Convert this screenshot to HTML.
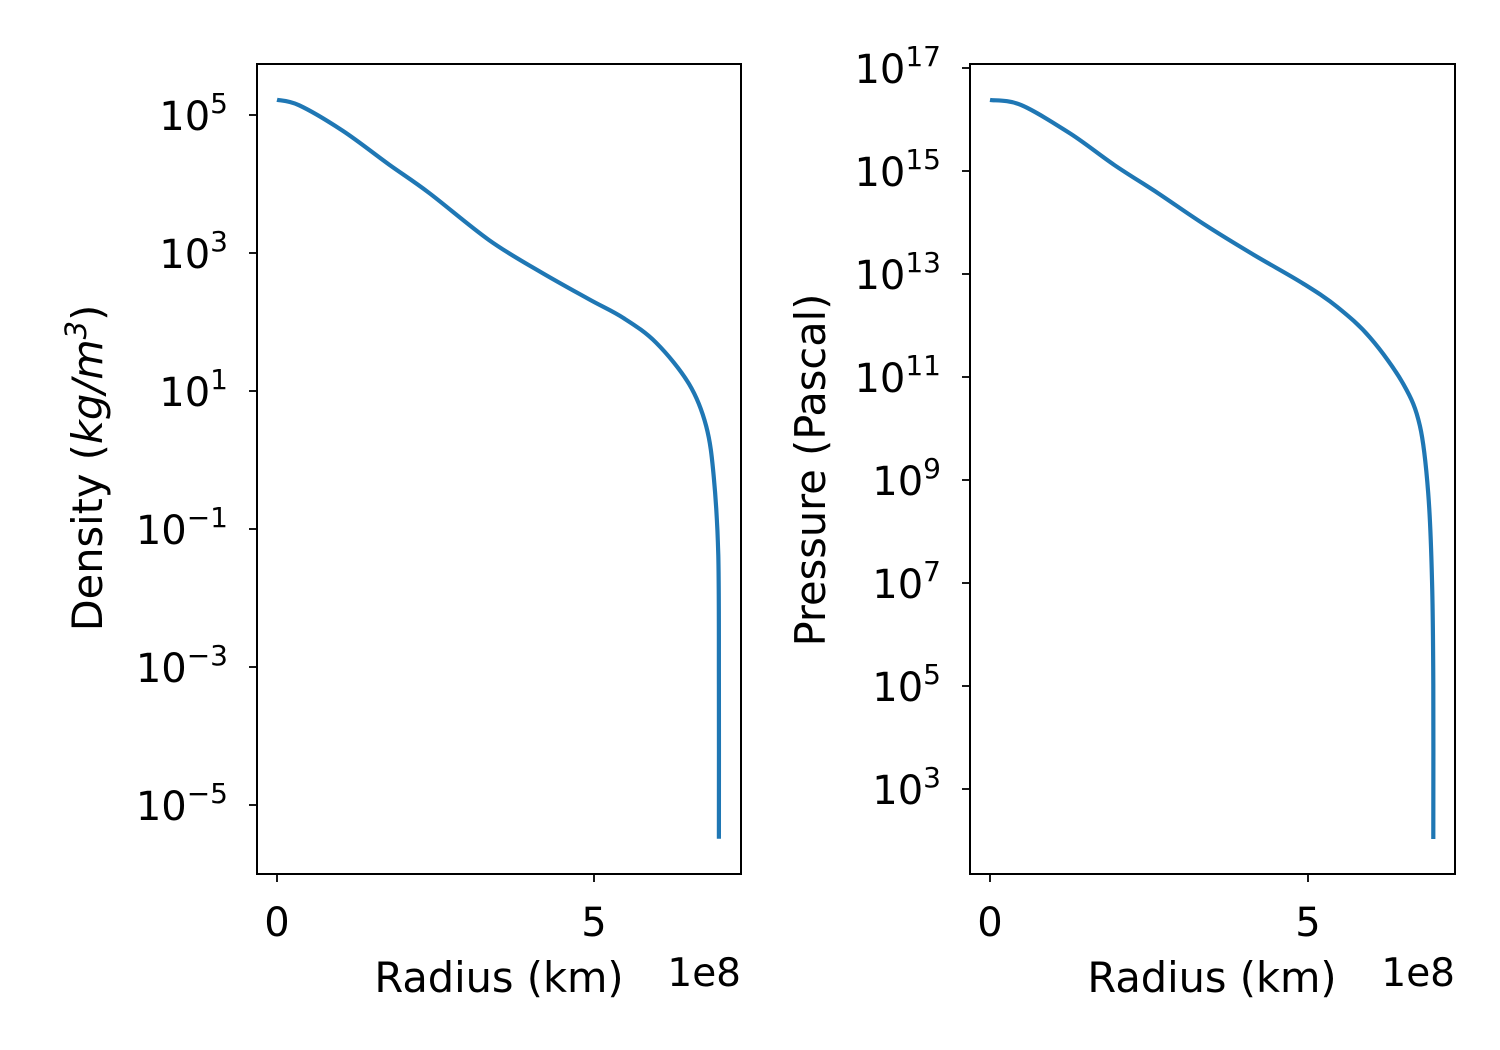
<!DOCTYPE html>
<html><head><meta charset="utf-8"><style>
html,body{margin:0;padding:0;background:#fff;}
svg{display:block;font-family:"DejaVu Sans","Liberation Sans",sans-serif;}
</style></head><body>
<svg id="fig" width="1500" height="1050" viewBox="0 0 1500 1050"></svg>
<script>
const radiusDensity=[0,0.35,1.04,1.77,2.40,3.34,4.13,4.92,5.46,5.98,6.50,6.77,6.89,6.96,6.97,6.97];
const logDensity=[5.22,5.14,4.77,4.28,3.87,3.19,2.74,2.33,2.06,1.70,1.10,0.49,-0.25,-1.38,-3.25,-5.49];
const radiusPressure=[0,0.49,1.27,1.95,2.64,3.36,4.15,4.93,5.46,5.98,6.50,6.76,6.89,6.95,6.97,6.97];
const logPressure=[16.38,16.28,15.72,15.12,14.57,13.97,13.37,12.81,12.36,11.76,10.86,10.05,8.75,7.06,5.03,2.03];
const xTicks=[0,5];
const densityTicks=[5,3,1,-1,-3,-5];
const pressureTicks=[17,15,13,11,9,7,5,3];
const NS="http://www.w3.org/2000/svg";
const svg=document.getElementById('fig');
function el(tag,attrs,parent){const e=document.createElementNS(NS,tag);for(const k in attrs)e.setAttribute(k,attrs[k]);(parent||svg).appendChild(e);return e;}
function smooth(pts){
  let d='M'+pts[0][0].toFixed(1)+' '+pts[0][1].toFixed(1);
  for(let i=0;i<pts.length-1;i++){
    const p0=pts[Math.max(0,i-1)],p1=pts[i],p2=pts[i+1],p3=pts[Math.min(pts.length-1,i+2)];
    const c1=[p1[0]+(p2[0]-p0[0])/6,p1[1]+(p2[1]-p0[1])/6];
    const c2=[p2[0]-(p3[0]-p1[0])/6,p2[1]-(p3[1]-p1[1])/6];
    d+=' C'+c1[0].toFixed(1)+' '+c1[1].toFixed(1)+' '+c2[0].toFixed(1)+' '+c2[1].toFixed(1)+' '+p2[0].toFixed(1)+' '+p2[1].toFixed(1);
  }
  return d;
}
function panel(cfg){
  const g=el('g',{});
  
  
  const X=v=>cfg.x0+v*cfg.xs;
  const Y=v=>cfg.y0-(v-cfg.yref)*cfg.ys;
  const pts=cfg.xs_data.map((r,i)=>[X(r),Y(cfg.ys_data[i])]);
  const p=el('path',{d:smooth(pts),fill:'none',stroke:'#1f77b4','stroke-width':4.2,'stroke-linejoin':'round'},g);
  
  
  const f=el('rect',{x:cfg.L,y:cfg.T,width:cfg.R-cfg.L,height:cfg.B-cfg.T,fill:'none',stroke:'#000','stroke-width':2},g);
  
  
  xTicks.forEach(t=>{
    const x=X(t);
    el('line',{x1:x,x2:x,y1:cfg.B,y2:cfg.B+8,stroke:'#000','stroke-width':1.8},g);
    const tx=el('text',{x:x,y:936,'font-size':40,'text-anchor':'middle'},g);
    tx.textContent=t;
    
    
  });
  cfg.yticks.forEach(t=>{
    const y=Y(t);
    el('line',{x1:cfg.L-8,x2:cfg.L,y1:y,y2:y,stroke:'#000','stroke-width':1.8},g);
    const tx=el('text',{x:cfg.L-29,y:y+15,'font-size':40,'text-anchor':'end'},g);
    
    
    const a=el('tspan',{},tx);a.textContent='10';
    const b=el('tspan',{'font-size':28,dy:-17},tx);b.textContent=(t<0?'\u2212'+(-t):t);
  });
  const xl=el('text',{x:cfg.L+242,y:992,'font-size':41.5,'text-anchor':'middle'},g);
  xl.textContent='Radius (km)';
  
  
  const off=el('text',{x:cfg.R,y:986,'font-size':39,'text-anchor':'end'},g);
  off.textContent='1e8';
  
  
  const yl=el('text',{x:0,y:0,'font-size':41.5,'text-anchor':'middle',transform:'translate('+cfg.ylx+','+cfg.yly+') rotate(-90)'},g);
  
  
  cfg.ylabel(yl);
}
panel({name:'density-panel',L:257,R:741,T:64,B:874,x0:277,xs:63.4,y0:115,yref:5,ys:69,
  xs_data:radiusDensity,ys_data:logDensity,yticks:densityTicks,ylx:102,yly:468,
  ylabel:t=>{const a=el('tspan',{},t);a.textContent='Density (';const b=el('tspan',{'font-style':'italic'},t);b.textContent='kg/m';const c=el('tspan',{'font-size':29,dy:-16,'font-style':'italic'},t);c.textContent='3';const d=el('tspan',{dy:16},t);d.textContent=')';}});
panel({name:'pressure-panel',L:970,R:1455,T:64,B:874,x0:990,xs:63.6,y0:68,yref:17,ys:51.5,
  xs_data:radiusPressure,ys_data:logPressure,yticks:pressureTicks,ylx:825,yly:470,
  ylabel:t=>{t.textContent='Pressure (Pascal)';}});
</script>
</body></html>
